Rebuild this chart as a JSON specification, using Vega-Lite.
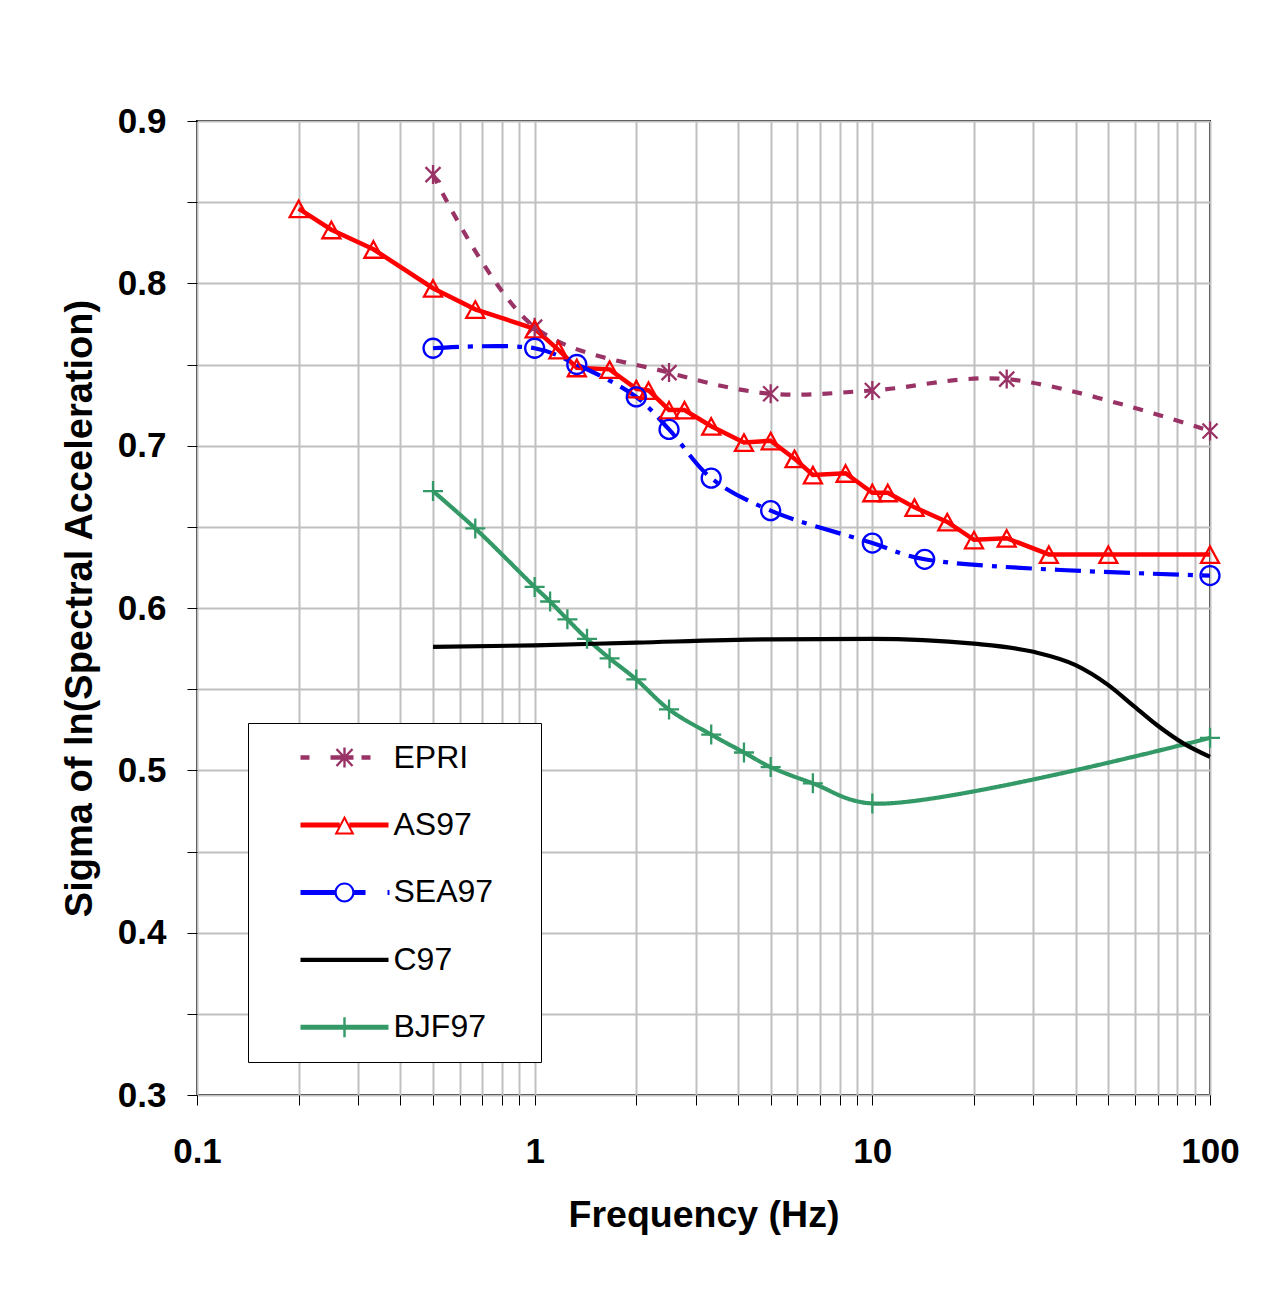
{
  "$schema": "https://vega.github.io/schema/vega-lite/v6.json",
  "width": 1013,
  "height": 974,
  "autosize": "none",
  "padding": {"left": 197, "top": 121, "right": 72, "bottom": 194},
  "background": "white",
  "config": {
    "view": {"stroke": "black", "strokeWidth": 2},
    "font": "Liberation Sans"
  },
  "data": {
    "values": [
      {"series": "EPRI", "f": 0.5, "v": 0.867},
      {"series": "EPRI", "f": 1, "v": 0.773},
      {"series": "EPRI", "f": 2.5, "v": 0.745},
      {"series": "EPRI", "f": 5, "v": 0.732},
      {"series": "EPRI", "f": 10, "v": 0.734},
      {"series": "EPRI", "f": 25, "v": 0.741},
      {"series": "EPRI", "f": 100, "v": 0.709},
      {"series": "AS97", "f": 0.2, "v": 0.846},
      {"series": "AS97", "f": 0.25, "v": 0.833},
      {"series": "AS97", "f": 0.333, "v": 0.821},
      {"series": "AS97", "f": 0.5, "v": 0.797},
      {"series": "AS97", "f": 0.667, "v": 0.784},
      {"series": "AS97", "f": 1, "v": 0.772},
      {"series": "AS97", "f": 1.176, "v": 0.759},
      {"series": "AS97", "f": 1.333, "v": 0.748},
      {"series": "AS97", "f": 1.667, "v": 0.747},
      {"series": "AS97", "f": 2, "v": 0.735},
      {"series": "AS97", "f": 2.174, "v": 0.734},
      {"series": "AS97", "f": 2.5, "v": 0.722},
      {"series": "AS97", "f": 2.778, "v": 0.722},
      {"series": "AS97", "f": 3.333, "v": 0.712},
      {"series": "AS97", "f": 4.167, "v": 0.702},
      {"series": "AS97", "f": 5, "v": 0.703},
      {"series": "AS97", "f": 5.882, "v": 0.692},
      {"series": "AS97", "f": 6.667, "v": 0.682},
      {"series": "AS97", "f": 8.333, "v": 0.683},
      {"series": "AS97", "f": 10, "v": 0.671},
      {"series": "AS97", "f": 11.11, "v": 0.671},
      {"series": "AS97", "f": 13.33, "v": 0.662},
      {"series": "AS97", "f": 16.67, "v": 0.653},
      {"series": "AS97", "f": 20, "v": 0.642},
      {"series": "AS97", "f": 25, "v": 0.643},
      {"series": "AS97", "f": 33.33, "v": 0.633},
      {"series": "AS97", "f": 50, "v": 0.633},
      {"series": "AS97", "f": 100, "v": 0.633},
      {"series": "SEA97", "f": 0.5, "v": 0.76},
      {"series": "SEA97", "f": 1, "v": 0.76},
      {"series": "SEA97", "f": 1.333, "v": 0.75},
      {"series": "SEA97", "f": 2, "v": 0.73},
      {"series": "SEA97", "f": 2.5, "v": 0.71},
      {"series": "SEA97", "f": 3.333, "v": 0.68},
      {"series": "SEA97", "f": 5, "v": 0.66},
      {"series": "SEA97", "f": 10, "v": 0.64},
      {"series": "SEA97", "f": 14.29, "v": 0.63},
      {"series": "SEA97", "f": 100, "v": 0.62},
      {"series": "C97", "f": 0.5, "v": 0.576},
      {"series": "C97", "f": 1, "v": 0.577},
      {"series": "C97", "f": 2, "v": 0.5787},
      {"series": "C97", "f": 5, "v": 0.5807},
      {"series": "C97", "f": 10, "v": 0.581},
      {"series": "C97", "f": 20, "v": 0.578},
      {"series": "C97", "f": 30, "v": 0.573},
      {"series": "C97", "f": 40, "v": 0.5648},
      {"series": "C97", "f": 50, "v": 0.5525},
      {"series": "C97", "f": 59, "v": 0.5402},
      {"series": "C97", "f": 69.6, "v": 0.5279},
      {"series": "C97", "f": 83.4, "v": 0.5166},
      {"series": "C97", "f": 100, "v": 0.5083},
      {"series": "BJF97", "f": 0.5, "v": 0.672},
      {"series": "BJF97", "f": 0.667, "v": 0.649},
      {"series": "BJF97", "f": 1, "v": 0.613},
      {"series": "BJF97", "f": 1.111, "v": 0.604},
      {"series": "BJF97", "f": 1.25, "v": 0.593},
      {"series": "BJF97", "f": 1.429, "v": 0.581},
      {"series": "BJF97", "f": 1.667, "v": 0.569},
      {"series": "BJF97", "f": 2, "v": 0.556},
      {"series": "BJF97", "f": 2.5, "v": 0.5375},
      {"series": "BJF97", "f": 3.333, "v": 0.522},
      {"series": "BJF97", "f": 4.167, "v": 0.511},
      {"series": "BJF97", "f": 5, "v": 0.502},
      {"series": "BJF97", "f": 6.667, "v": 0.492},
      {"series": "BJF97", "f": 10, "v": 0.4796},
      {"series": "BJF97", "f": 100, "v": 0.52}
    ]
  },
  "encoding": {
    "x": {
      "field": "f", "type": "quantitative",
      "scale": {"type": "log", "domain": [0.1, 100], "nice": false},
      "axis": {
        "title": "Frequency (Hz)",
        "titleFont": "Liberation Sans", "titleFontSize": 37.5, "titleFontWeight": "bold", "titleColor": "black",
        "titlePadding": 27,
        "values": [0.1,0.2,0.3,0.4,0.5,0.6,0.7,0.8,0.9,1,2,3,4,5,6,7,8,9,10,20,30,40,50,60,70,80,90,100],
        "labelExpr": "(datum.value == 0.1 || datum.value == 1 || datum.value == 10 || datum.value == 100) ? datum.value + '' : ''",
        "labelFont": "Liberation Sans", "labelFontSize": 35, "labelFontWeight": "bold", "labelColor": "black",
        "labelPadding": 29, "labelOverlap": false, "labelFlush": false,
        "grid": true, "gridColor": "#c0c0c0", "gridWidth": 2,
        "ticks": true, "tickColor": "black", "tickSize": 10, "tickWidth": 1,
        "domain": false
      }
    },
    "y": {
      "field": "v", "type": "quantitative",
      "scale": {"domain": [0.3, 0.9], "nice": false, "zero": false},
      "axis": {
        "title": "Sigma of ln(Spectral Acceleration)",
        "titleFont": "Liberation Sans", "titleFontSize": 38, "titleFontWeight": "bold", "titleColor": "black",
        "titlePadding": 18,
        "values": [0.3,0.35,0.4,0.45,0.5,0.55,0.6,0.65,0.7,0.75,0.8,0.85,0.9],
        "labelExpr": "round(datum.value * 20) % 2 == 0 ? format(datum.value, '.1f') : ''",
        "labelFont": "Liberation Sans", "labelFontSize": 35, "labelFontWeight": "bold", "labelColor": "black",
        "labelPadding": 21, "labelOverlap": false, "labelFlush": false,
        "grid": true, "gridColor": "#c0c0c0", "gridWidth": 2,
        "ticks": true, "tickColor": "black", "tickSize": 10, "tickWidth": 1,
        "domain": false
      }
    }
  },
  "layer": [
    {
      "transform": [{"filter": "datum.series === 'AS97'"}],
      "mark": {"type": "line", "interpolate": "linear", "strokeWidth": 4.5},
      "encoding": {
        "color": {
          "field": "series", "type": "nominal",
          "scale": {"domain": ["EPRI", "AS97", "SEA97", "C97", "BJF97"], "range": ["#993366", "#ff0000", "#0000ff", "#000000", "#339966"]},
          "legend": {
            "title": null, "orient": "none", "legendX": 51, "legendY": 602,
            "padding": 18.5, "rowPadding": 35.45, "symbolOffset": 62, "labelOffset": 33,
            "strokeColor": "black", "fillColor": "white",
            "labelFont": "Liberation Sans", "labelFontSize": 32, "labelColor": "black",
            "symbolSize": 400, "symbolStrokeWidth": 0,
            "encode": {
              "symbols": {
                "update": {
                  "shape": {"signal": "datum.value === 'EPRI' ? 'M-4.4,-0.22H-3.5V0.22H-4.4Z M-1.4,-0.22H0.9V0.22H-1.4Z M1.7,-0.22H2.6V0.22H1.7Z M-0.12,-1.0H0.12V1.0H-0.12Z M0.713,0.932L-0.887,-0.768L-0.713,-0.932L0.887,0.768Z M-0.713,0.932L-0.887,0.768L0.713,-0.932L0.887,-0.768Z M17.8,0L17.8,0Z' : datum.value === 'AS97' ? 'M-4.4,-0.25H-0.48V0.25H-4.4Z M0.48,-0.25H4.4V0.25H0.48Z M0,-0.95L1,0.95L-1,0.95Z M0,-0.52L-0.67,0.75L0.67,0.75Z M17.8,0L17.8,0Z' : datum.value === 'SEA97' ? 'M-4.4,-0.25H-0.95V0.25H-4.4Z M0.95,-0.25H2.1V0.25H0.95Z M4.3,-0.25H4.5V0.25H4.3Z M1,0A1,1 0 1,1 -1,0A1,1 0 1,1 1,0Z M0.78,0A0.78,0.78 0 1,0 -0.78,0A0.78,0.78 0 1,0 0.78,0Z M17.8,0L17.8,0Z' : datum.value === 'C97' ? 'M-4.4,-0.22H4.4V0.22H-4.4Z M17.8,0L17.8,0Z' : 'M-4.4,-0.25H4.4V0.25H-4.4Z M-0.12,-1H0.12V1H-0.12Z M17.8,0L17.8,0Z'"},
                  "fill": {"scale": "color", "field": "value"},
                  "stroke": {"value": "transparent"},
                  "strokeWidth": {"value": 0},
                  "size": {"value": 400},
                  "opacity": {"value": 1}
                }
              }
            }
          }
        }
      }
    },
    {
      "transform": [{"filter": "datum.series === 'EPRI' || datum.series === 'SEA97' || datum.series === 'BJF97'"}],
      "mark": {"type": "line", "interpolate": "catmull-rom", "strokeWidth": 4.2},
      "encoding": {
        "color": {"field": "series", "type": "nominal"},
        "strokeDash": {
          "field": "series", "type": "nominal",
          "scale": {"domain": ["EPRI", "SEA97", "BJF97"], "range": [[10, 11], [26, 9, 5, 9], [1, 0]]},
          "legend": null
        }
      }
    },
    {
      "transform": [{"filter": "datum.series === 'C97'"}],
      "mark": {"type": "line", "interpolate": "monotone", "strokeWidth": 4.2},
      "encoding": {
        "color": {"field": "series", "type": "nominal"}
      }
    },
    {
      "transform": [{"filter": "datum.series !== 'C97'"}],
      "mark": {"type": "point", "filled": false, "size": 400, "strokeWidth": 2.3, "opacity": 1},
      "encoding": {
        "color": {"field": "series", "type": "nominal"},
        "shape": {
          "field": "series", "type": "nominal",
          "scale": {"domain": ["EPRI", "AS97", "SEA97", "BJF97"], "range": [
            "M0,-0.95V0.95M-0.75,-0.75L0.75,0.75M-0.75,0.75L0.75,-0.75",
            "M0,-0.8L0.9,0.85L-0.9,0.85Z",
            "M0.95,0A0.95,0.95 0 1,1 -0.95,0A0.95,0.95 0 1,1 0.95,0Z",
            "M-1,0H1M0,-1V1"
          ]},
          "legend": null
        }
      }
    }
  ]
}
